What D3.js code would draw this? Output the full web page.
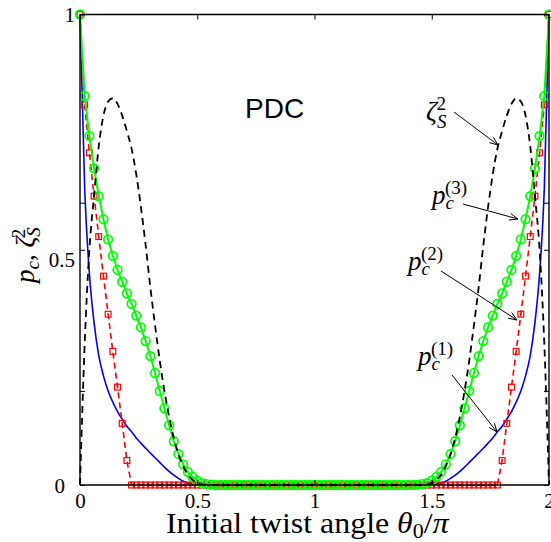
<!DOCTYPE html>
<html>
<head>
<meta charset="utf-8">
<script src="https://cdn.jsdelivr.net/npm/d3@7/dist/d3.min.js"></script>
<style>
  html, body { margin: 0; padding: 0; background: #fff; }
  svg { display: block; }
</style>
</head>
<body>
<svg id="chart" width="551" height="542"></svg>
<script>
// ---------------- DATA ----------------
const theta = [
  0.00,0.02,0.04,0.06,0.08,0.10,0.12,0.14,0.16,0.18,0.20,0.22,0.24,0.26,0.28,0.30,0.32,0.34,0.36,0.38,
  0.40,0.42,0.44,0.46,0.48,0.50,0.52,0.54,0.56,0.58,0.60,0.62,0.64,0.66,0.68,0.70,0.72,0.74,0.76,0.78,
  0.80,0.82,0.84,0.86,0.88,0.90,0.92,0.94,0.96,0.98,1.00,1.02,1.04,1.06,1.08,1.10,1.12,1.14,1.16,1.18,
  1.20,1.22,1.24,1.26,1.28,1.30,1.32,1.34,1.36,1.38,1.40,1.42,1.44,1.46,1.48,1.50,1.52,1.54,1.56,1.58,
  1.60,1.62,1.64,1.66,1.68,1.70,1.72,1.74,1.76,1.78,1.80,1.82,1.84,1.86,1.88,1.90,1.92,1.94,1.96,1.98,2.00
];
// p_c^(1) : blue solid
const pc1 = [
  1.000,0.630,0.450,0.345,0.275,0.232,0.200,0.176,0.156,0.140,0.125,0.113,0.100,0.089,0.078,0.068,0.058,0.048,0.038,0.029,
  0.021,0.014,0.008,0.004,0.002,0.001,0,0,0,0,0,0,0,0,0,0,0,0,0,0,
  0,0,0,0,0,0,0,0,0,0,0,0,0,0,0,0,0,0,0,0,
  0,0,0,0,0,0,0,0,0,0,0,0,0,0,0,0.001,0.002,0.004,0.008,0.014,
  0.021,0.029,0.038,0.048,0.058,0.068,0.078,0.089,0.100,0.113,0.125,0.140,0.156,0.176,0.200,0.232,0.275,0.345,0.450,0.630,1.000
];
// p_c^(2) : red dashed with squares
const pc2 = [
  1.000,0.808,0.706,0.614,0.528,0.444,0.363,0.284,0.208,0.131,0.052,0,0,0,0,0,0,0,0,0,
  0,0,0,0,0,0,0,0,0,0,0,0,0,0,0,0,0,0,0,0,
  0,0,0,0,0,0,0,0,0,0,0,0,0,0,0,0,0,0,0,0,
  0,0,0,0,0,0,0,0,0,0,0,0,0,0,0,0,0,0,0,0,
  0,0,0,0,0,0,0,0,0,0,0.052,0.131,0.208,0.284,0.363,0.444,0.528,0.614,0.706,0.808,1.000
];
// p_c^(3) : green solid with circles
const pc3 = [
  1.000,0.827,0.742,0.673,0.614,0.565,0.522,0.487,0.457,0.432,0.407,0.385,0.360,0.335,0.306,0.274,0.238,0.200,0.163,0.127,
  0.093,0.066,0.044,0.028,0.017,0.009,0.004,0.002,0.001,0,0,0,0,0,0,0,0,0,0,0,
  0,0,0,0,0,0,0,0,0,0,0,0,0,0,0,0,0,0,0,0,
  0,0,0,0,0,0,0,0,0,0,0,0,0.001,0.002,0.004,0.009,0.017,0.028,0.044,0.066,
  0.093,0.127,0.163,0.200,0.238,0.274,0.306,0.335,0.360,0.385,0.407,0.432,0.457,0.487,0.522,0.565,0.614,0.673,0.742,0.827,1.000
];
// zeta_S^2 : black dashed
const zeta2 = [
  0.000,0.300,0.500,0.615,0.720,0.785,0.815,0.822,0.810,0.785,0.752,0.715,0.660,0.590,0.510,0.420,0.340,0.265,0.200,0.145,
  0.100,0.065,0.040,0.022,0.011,0.005,0.002,0,0,0,0,0,0,0,0,0,0,0,0,0,
  0,0,0,0,0,0,0,0,0,0,0,0,0,0,0,0,0,0,0,0,
  0,0,0,0,0,0,0,0,0,0,0,0,0,0,0.002,0.005,0.011,0.022,0.040,0.065,
  0.100,0.145,0.200,0.265,0.340,0.420,0.510,0.590,0.660,0.715,0.752,0.785,0.810,0.822,0.815,0.785,0.720,0.615,0.500,0.300,0.000
];
const xTicks = [0, 0.5, 1, 1.5, 2];
const xTickLabels = ["0", "0.5", "1", "1.5", "2"];
const yTicks = [0, 0.2, 0.5, 0.6, 1];
const yTickLabels = ["0", "", "0.5", "", "1"];

// ---------------- LAYOUT ----------------
const svg = d3.select("#chart");
const X0 = 80, X1 = 549, Y0 = 485, Y1 = 14.5;
const x = d3.scaleLinear().domain([0, 2]).range([X0, X1]);
const y = d3.scaleLinear().domain([0, 1]).range([Y0, Y1]);
const serif = "'Liberation Serif','Times New Roman',serif";

const line = (vals, curve) => d3.line()
  .x((d, i) => x(theta[i]))
  .y(d => y(d))
  .curve(curve || d3.curveLinear)(vals);

const plot = svg.append("g");

// blue p1
plot.append("path").attr("d", line(pc1, d3.curveMonotoneX))
  .attr("fill", "none").attr("stroke", "#0000ff").attr("stroke-width", 1.6);

// red p2
plot.append("path").attr("d", line(pc2))
  .attr("fill", "none").attr("stroke", "#ff0000").attr("stroke-width", 1.6)
  .attr("stroke-dasharray", "6,4");
plot.append("g").selectAll("rect").data(pc2).join("rect")
  .attr("x", (d, i) => x(theta[i]) - 2.9)
  .attr("y", d => y(d) - 2.9)
  .attr("width", 5.8).attr("height", 5.8)
  .attr("fill", "none").attr("stroke", "#ff0000").attr("stroke-width", 1.2);

// green p3
plot.append("path").attr("d", line(pc3))
  .attr("fill", "none").attr("stroke", "#00ff00").attr("stroke-width", 2);
plot.append("g").selectAll("circle").data(pc3).join("circle")
  .attr("cx", (d, i) => x(theta[i]))
  .attr("cy", d => y(d))
  .attr("r", 4.3)
  .attr("fill", "none").attr("stroke", "#00ff00").attr("stroke-width", 1.7);

// black zeta^2
plot.append("path").attr("d", line(zeta2, d3.curveMonotoneX))
  .attr("fill", "none").attr("stroke", "#000").attr("stroke-width", 1.8)
  .attr("stroke-dasharray", "7,5");

// ---------------- AXES ----------------
const axB = svg.append("g").attr("transform", `translate(0,${Y0})`)
  .call(d3.axisBottom(x).tickValues(xTicks).tickSize(-5).tickFormat((d, i) => xTickLabels[i]).tickPadding(10));
const axT = svg.append("g").attr("transform", `translate(0,${Y1})`)
  .call(d3.axisTop(x).tickValues(xTicks).tickSize(-5).tickFormat(""));
const axL = svg.append("g").attr("transform", `translate(${X0},0)`)
  .call(d3.axisLeft(y).tickValues(yTicks).tickSize(-5).tickFormat((d, i) => yTickLabels[i]).tickPadding(8));
const axR = svg.append("g").attr("transform", `translate(${X1},0)`)
  .call(d3.axisRight(y).tickValues(yTicks).tickSize(-5).tickFormat(""));

[axB, axT, axL, axR].forEach(a => {
  a.select(".domain").attr("stroke", "#000").attr("stroke-width", 1.4);
  a.selectAll(".tick line").attr("stroke", "#000").attr("stroke-width", 1);
  a.selectAll("text").attr("font-family", serif).attr("font-size", 21).attr("fill", "#000");
});
axB.selectAll(".domain").attr("d", `M${X0},0H${X1}`);
axT.selectAll(".domain").attr("d", `M${X0},0H${X1}`);
axL.selectAll(".domain").attr("d", `M0,${Y0}V${Y1}`);
axR.selectAll(".domain").attr("d", `M0,${Y0}V${Y1}`);
// tick label fine positioning
axL.selectAll(".tick text").attr("x", d => d === 0 ? -15 : -5)
  .attr("dy", d => d === 0.5 ? "0.8em" : "0.35em");
axB.selectAll(".tick text").attr("y", 23).attr("dy", 0);

// ---------------- LABELS ----------------
const xl = svg.append("text")
  .attr("transform", "translate(166,533) scale(1.1,1)")
  .attr("font-family", serif).attr("font-size", 29).attr("fill", "#000");
xl.append("tspan").text("Initial twist angle ");
xl.append("tspan").attr("font-style", "italic").text("θ");
xl.append("tspan").attr("font-size", 20).attr("dy", 5).text("0");
xl.append("tspan").attr("dy", -5).text("/");
xl.append("tspan").attr("font-style", "italic").text("π");

// y label (rotated)
const yl = svg.append("text")
  .attr("transform", "translate(34,283) rotate(-90)")
  .attr("font-family", serif).attr("font-size", 27).attr("fill", "#000");
yl.append("tspan").attr("font-style", "italic").text("p");
yl.append("tspan").attr("font-style", "italic").attr("font-size", 19).attr("dy", 5).text("c");
yl.append("tspan").attr("dy", -5).text(", ");
yl.append("tspan").attr("font-style", "italic").text("ζ");
yl.append("tspan").attr("font-style", "italic").attr("font-size", 19).attr("dy", 6).text("S");
yl.append("tspan").attr("font-size", 19).attr("dx", -11).attr("dy", -15).text("2");

// PDC
svg.append("text").attr("x", 245).attr("y", 118)
  .attr("font-family", "'Liberation Sans', Arial, sans-serif").attr("font-size", 28)
  .attr("fill", "#000").text("PDC");

// ---------------- ANNOTATIONS ----------------
function arrow(x1, y1, x2, y2) {
  const g = svg.append("g").attr("stroke", "#000").attr("stroke-width", 1).attr("fill", "none");
  g.append("line").attr("x1", x1).attr("y1", y1).attr("x2", x2).attr("y2", y2);
  const a = Math.atan2(y2 - y1, x2 - x1), L = 9, w = 0.38;
  g.append("path").attr("d",
    `M${x2 - L * Math.cos(a - w)},${y2 - L * Math.sin(a - w)}L${x2},${y2}L${x2 - L * Math.cos(a + w)},${y2 - L * Math.sin(a + w)}`);
}
function pcLabel(px, base, n) {
  const t = svg.append("text").attr("x", px).attr("y", base)
    .attr("font-family", serif).attr("fill", "#000").attr("font-size", 27);
  t.append("tspan").attr("font-style", "italic").text("p");
  t.append("tspan").attr("font-style", "italic").attr("font-size", 19).attr("dx", 0).attr("dy", 5).text("c");
  t.append("tspan").attr("font-size", 19).attr("dx", -9).attr("dy", -15).text(`(${n})`);
}
// zeta_S^2 label
(() => {
  const t = svg.append("text").attr("x", 426).attr("y", 120)
    .attr("font-family", serif).attr("fill", "#000").attr("font-size", 27);
  t.append("tspan").attr("font-style", "italic").text("ζ");
  t.append("tspan").attr("font-style", "italic").attr("font-size", 19).attr("dy", 8).text("S");
  t.append("tspan").attr("font-size", 19).attr("dx", -10).attr("dy", -18).text("2");
})();
arrow(454, 112, 498, 145);

pcLabel(432, 204, 3);
arrow(463, 204, 518, 219);
pcLabel(408, 270, 2);
arrow(441, 271, 517, 320);
pcLabel(418, 365, 1);
arrow(452, 375, 497, 432);
</script>
</body>
</html>
